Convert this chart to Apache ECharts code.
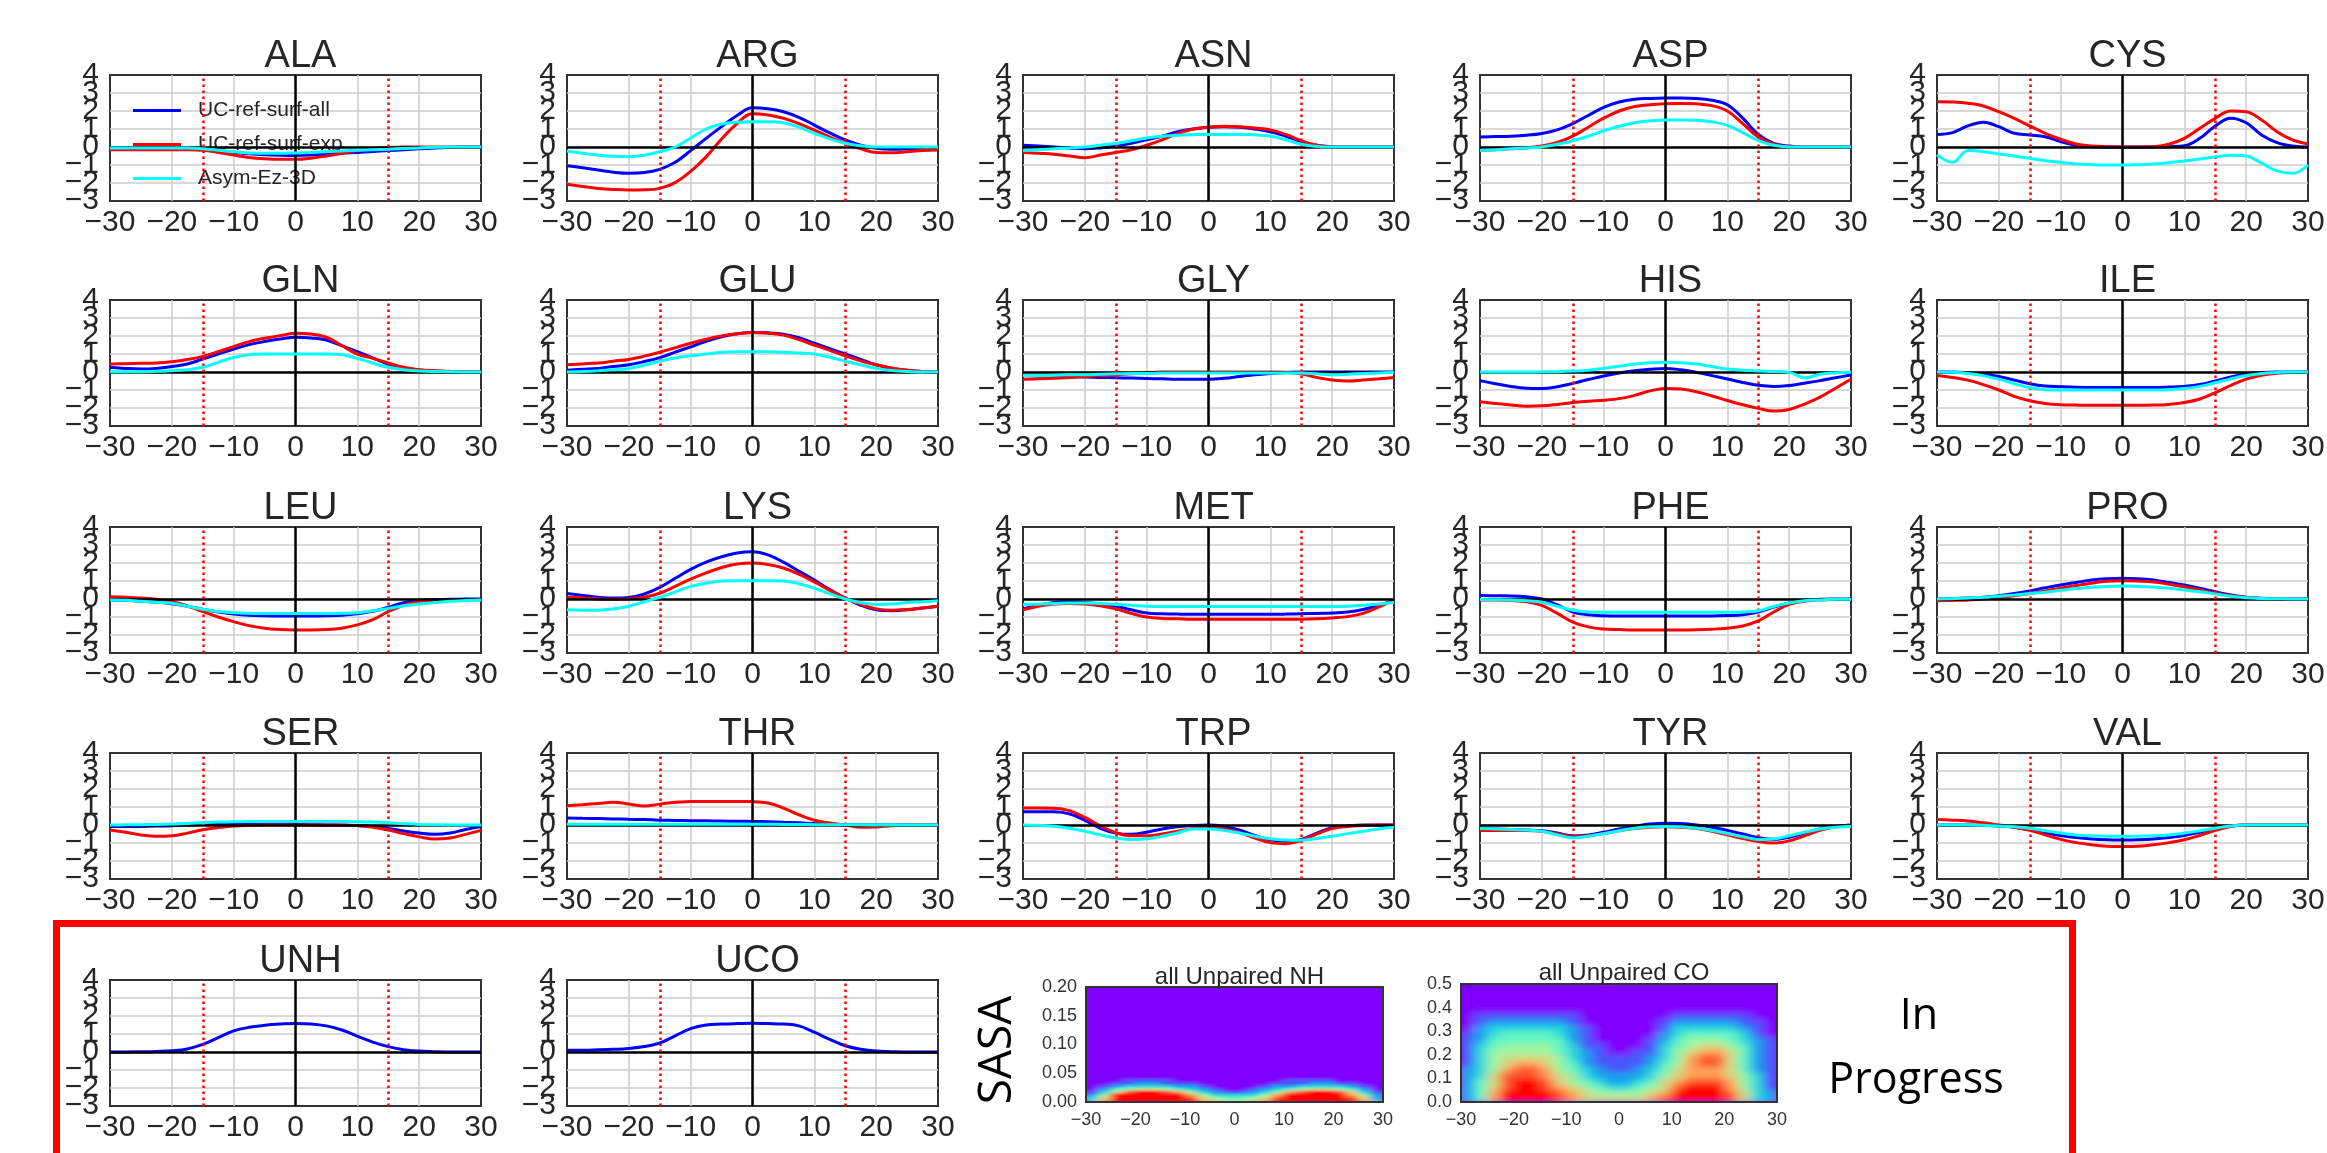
<!DOCTYPE html>
<html><head><meta charset="utf-8">
<script src="https://cdn.jsdelivr.net/npm/echarts@6/dist/echarts.min.js"></script>
<style>
html,body{margin:0;padding:0;background:#fff}
#wrap{position:relative;width:2327px;height:1153px;background:#fff;overflow:hidden}
.hm{position:absolute;overflow:hidden;background:#8000ff}
.hmi{position:absolute}
#c{position:absolute;left:0;top:0;width:2327px;height:1153px}
</style>
</head><body>
<svg width="0" height="0" style="position:absolute">
  <filter id="blurNH" x="-5%" y="-20%" width="110%" height="140%"><feGaussianBlur stdDeviation="4 0.9" edgeMode="duplicate"/></filter>
  <filter id="blurCO" x="-5%" y="-10%" width="110%" height="120%"><feGaussianBlur stdDeviation="5.5 3.3" edgeMode="duplicate"/></filter>
</svg>
<div id="wrap">
  <div class="hm" style="left:1086px;top:987px;width:297px;height:115px"><div id="hm0" class="hmi" style="left:-10px;top:-10px;width:317px;height:135px;filter:url(#blurNH)"></div></div>
  <div class="hm" style="left:1461px;top:984px;width:316px;height:118px"><div id="hm1" class="hmi" style="left:-10px;top:-10px;width:336px;height:138px;filter:url(#blurCO)"></div></div>
  <div id="c"></div>
</div>
<script>
// ---- data ----
const X = [-30,-27.5,-25,-22.5,-20,-17.5,-15,-12.5,-10,-7.5,-5,-2.5,0,2.5,5,7.5,10,12.5,15,17.5,20,22.5,25,27.5,30];
const SERIES_NAMES = ['UC-ref-surf-all','UC-ref-surf-exp','Asym-Ez-3D'];
const TITLES = ['ALA','ARG','ASN','ASP','CYS','GLN','GLU','GLY','HIS','ILE','LEU','LYS','MET','PHE','PRO','SER','THR','TRP','TYR','VAL','UNH','UCO'];
// y tick labels, split into three groups so that neighbouring labels do not collide inside one axis
const Y_LABEL_GROUPS = [[-3,0,3],[-2,1,4],[-1,2]];

const ALA_all  = [-0.05,-0.05,-0.05,-0.05,-0.05,-0.08,-0.12,-0.2,-0.3,-0.38,-0.43,-0.46,-0.47,-0.45,-0.4,-0.35,-0.3,-0.25,-0.2,-0.15,-0.1,-0.05,-0.02,0,0];
const ALA_exp  = [-0.15,-0.15,-0.15,-0.15,-0.15,-0.15,-0.18,-0.3,-0.45,-0.58,-0.65,-0.68,-0.68,-0.62,-0.5,-0.35,-0.2,-0.1,-0.03,0,0,0,0,0,0];
const ALA_asym = [-0.05,-0.05,-0.05,-0.05,-0.05,-0.05,-0.1,-0.18,-0.27,-0.33,-0.35,-0.35,-0.33,-0.3,-0.26,-0.22,-0.18,-0.15,-0.12,-0.08,-0.05,-0.02,0,0,0];

const ARG_all  = [-1.04,-1.15,-1.28,-1.4,-1.46,-1.42,-1.24,-0.85,-0.2,0.48,1.13,1.75,2.18,2.12,1.96,1.65,1.22,0.78,0.39,0.1,-0.07,-0.12,-0.1,-0.07,-0.05];
const ARG_exp  = [-2.07,-2.2,-2.3,-2.36,-2.39,-2.38,-2.3,-1.98,-1.35,-0.55,0.45,1.3,1.85,1.78,1.6,1.3,0.94,0.55,0.2,-0.1,-0.3,-0.32,-0.26,-0.2,-0.17];
const ARG_asym = [-0.22,-0.35,-0.45,-0.52,-0.54,-0.46,-0.26,0.0,0.5,1.0,1.28,1.38,1.4,1.4,1.35,1.1,0.76,0.45,0.2,0.07,0.0,0,0,0,0];

const ASN_all  = [0.1,0.05,0,-0.05,-0.1,-0.05,0.05,0.2,0.4,0.6,0.85,1.0,1.1,1.12,1.1,1.0,0.85,0.6,0.3,0.1,0.02,0,0,0,0];
const ASN_exp  = [-0.3,-0.35,-0.4,-0.5,-0.6,-0.45,-0.3,-0.15,0.1,0.4,0.75,1.0,1.1,1.15,1.12,1.05,0.95,0.7,0.35,0.1,0,0,0,0,0];
const ASN_asym = [-0.2,-0.15,-0.1,-0.05,0,0.1,0.2,0.35,0.5,0.6,0.65,0.68,0.7,0.7,0.7,0.68,0.6,0.4,0.15,0.03,0,0,0,0,0];

const ASP_all  = [0.55,0.58,0.6,0.65,0.75,0.95,1.3,1.75,2.2,2.5,2.65,2.7,2.72,2.72,2.7,2.6,2.35,1.6,0.7,0.2,0.05,0,0,0,0];
const ASP_exp  = [-0.2,-0.15,-0.1,-0.05,0.05,0.25,0.6,1.1,1.6,2.0,2.25,2.35,2.4,2.42,2.4,2.3,2.0,1.3,0.55,0.15,0.02,0,0,0,0];
const ASP_asym = [-0.2,-0.15,-0.1,-0.05,0,0.15,0.35,0.6,0.9,1.15,1.35,1.45,1.5,1.5,1.48,1.4,1.2,0.8,0.35,0.1,0,0,0,0,0];

const CYS_all  = [0.7,0.8,1.17,1.37,1.13,0.76,0.67,0.57,0.3,0.1,0.02,0,0,0,0,0.02,0.07,0.48,1.17,1.6,1.35,0.67,0.24,0.05,0];
const CYS_exp  = [2.52,2.5,2.43,2.28,1.96,1.59,1.17,0.76,0.43,0.17,0.06,0.02,0,0,0.02,0.15,0.48,1.04,1.59,2.0,1.96,1.5,0.85,0.39,0.17];
const CYS_asym = [-0.44,-0.85,-0.2,-0.26,-0.39,-0.5,-0.63,-0.76,-0.85,-0.94,-0.98,-1.0,-1.0,-0.98,-0.94,-0.87,-0.78,-0.67,-0.54,-0.46,-0.5,-0.9,-1.33,-1.46,-1.0];

const GLN_all  = [0.26,0.2,0.17,0.2,0.3,0.44,0.72,1.0,1.28,1.52,1.69,1.83,1.93,1.89,1.78,1.46,1.13,0.78,0.44,0.22,0.11,0.05,0.02,0,0];
const GLN_exp  = [0.44,0.46,0.48,0.5,0.57,0.69,0.87,1.13,1.41,1.69,1.87,2.02,2.15,2.11,1.93,1.46,1.0,0.76,0.5,0.26,0.13,0.07,0.04,0.02,0];
const GLN_asym = [0.02,0.02,0.02,0.04,0.07,0.13,0.26,0.54,0.81,0.96,1.0,1.0,1.0,1.0,1.0,0.96,0.76,0.5,0.26,0.13,0.06,0.03,0.02,0,0];

const GLU_all  = [0.1,0.15,0.2,0.3,0.4,0.58,0.8,1.1,1.4,1.7,1.95,2.12,2.2,2.18,2.1,1.9,1.6,1.3,1.0,0.7,0.4,0.2,0.1,0.03,0];
const GLU_exp  = [0.4,0.45,0.5,0.6,0.7,0.88,1.1,1.35,1.6,1.82,2.0,2.12,2.2,2.15,2.05,1.8,1.5,1.2,0.9,0.62,0.4,0.22,0.1,0.03,0];
const GLU_asym = [0,0.03,0.07,0.12,0.2,0.38,0.6,0.78,0.9,1.0,1.1,1.12,1.12,1.12,1.1,1.05,1.0,0.82,0.6,0.4,0.2,0.08,0.03,0,0];

const GLY_all  = [-0.2,-0.22,-0.24,-0.26,-0.28,-0.3,-0.32,-0.34,-0.36,-0.38,-0.4,-0.4,-0.4,-0.35,-0.25,-0.15,-0.08,-0.03,0,0,0,0,0,0,0];
const GLY_exp  = [-0.4,-0.38,-0.35,-0.3,-0.25,-0.2,-0.15,-0.1,-0.05,0,0,0,0,0,0,0,0,-0.02,-0.1,-0.3,-0.45,-0.5,-0.45,-0.38,-0.3];
const GLY_asym = [-0.2,-0.2,-0.18,-0.15,-0.15,-0.12,-0.1,-0.08,-0.08,-0.06,-0.05,-0.05,-0.05,-0.05,-0.05,-0.05,-0.05,-0.05,-0.05,-0.1,-0.15,-0.12,-0.08,-0.05,-0.03];

const HIS_all  = [-0.48,-0.65,-0.8,-0.9,-0.92,-0.82,-0.63,-0.42,-0.22,-0.05,0.07,0.15,0.2,0.12,-0.02,-0.2,-0.39,-0.58,-0.74,-0.8,-0.75,-0.62,-0.48,-0.32,-0.17];
const HIS_exp  = [-1.65,-1.75,-1.83,-1.9,-1.88,-1.8,-1.7,-1.62,-1.57,-1.48,-1.3,-1.05,-0.91,-0.95,-1.1,-1.33,-1.58,-1.82,-2.02,-2.17,-2.08,-1.78,-1.4,-0.9,-0.4];
const HIS_asym = [0,0,0,0,0.01,0.02,0.05,0.1,0.2,0.32,0.44,0.52,0.54,0.52,0.44,0.3,0.17,0.1,0.06,0.03,-0.02,-0.32,-0.12,-0.05,-0.02];

const ILE_all  = [0,0,-0.05,-0.12,-0.25,-0.45,-0.65,-0.78,-0.82,-0.85,-0.86,-0.86,-0.86,-0.86,-0.86,-0.84,-0.8,-0.7,-0.5,-0.28,-0.1,-0.03,0,0,0];
const ILE_exp  = [-0.2,-0.3,-0.45,-0.7,-1.0,-1.35,-1.6,-1.75,-1.82,-1.84,-1.85,-1.85,-1.85,-1.85,-1.84,-1.8,-1.7,-1.5,-1.15,-0.75,-0.4,-0.18,-0.07,-0.02,0];
const ILE_asym = [0,-0.02,-0.08,-0.2,-0.4,-0.65,-0.88,-0.98,-1.0,-1.0,-1.0,-1.0,-1.0,-1.0,-1.0,-0.98,-0.92,-0.8,-0.6,-0.38,-0.2,-0.08,-0.03,0,0];

const LEU_all  = [-0.05,-0.07,-0.12,-0.18,-0.26,-0.4,-0.57,-0.72,-0.83,-0.9,-0.93,-0.94,-0.94,-0.94,-0.93,-0.9,-0.82,-0.68,-0.46,-0.2,-0.07,-0.03,-0.02,0,0];
const LEU_exp  = [0.13,0.1,0.05,-0.02,-0.15,-0.38,-0.7,-1.0,-1.26,-1.48,-1.63,-1.7,-1.72,-1.72,-1.7,-1.62,-1.44,-1.15,-0.7,-0.35,-0.15,-0.08,-0.05,-0.05,-0.05];
const LEU_asym = [-0.05,-0.07,-0.12,-0.18,-0.24,-0.4,-0.57,-0.7,-0.76,-0.79,-0.8,-0.8,-0.8,-0.8,-0.8,-0.79,-0.76,-0.66,-0.52,-0.38,-0.28,-0.2,-0.13,-0.08,-0.05];

const LYS_all  = [0.3,0.2,0.1,0.05,0.08,0.28,0.65,1.15,1.65,2.05,2.35,2.55,2.62,2.45,2.05,1.55,1.05,0.52,0.05,-0.35,-0.6,-0.65,-0.6,-0.5,-0.4];
const LYS_exp  = [0.1,0.05,0,-0.02,0,0.1,0.32,0.7,1.1,1.45,1.75,1.95,2.0,1.92,1.72,1.38,0.95,0.48,0.05,-0.3,-0.55,-0.62,-0.58,-0.5,-0.4];
const LYS_asym = [-0.6,-0.62,-0.62,-0.55,-0.4,-0.15,0.1,0.4,0.7,0.88,1.0,1.02,1.02,1.02,1.0,0.85,0.6,0.3,0,-0.2,-0.3,-0.28,-0.2,-0.15,-0.1];

const MET_all  = [-0.55,-0.35,-0.2,-0.15,-0.2,-0.28,-0.4,-0.6,-0.78,-0.82,-0.84,-0.85,-0.85,-0.85,-0.85,-0.85,-0.85,-0.84,-0.82,-0.8,-0.78,-0.72,-0.58,-0.35,-0.1];
const MET_exp  = [-0.6,-0.4,-0.28,-0.25,-0.28,-0.38,-0.55,-0.8,-1.0,-1.08,-1.1,-1.12,-1.12,-1.12,-1.12,-1.12,-1.12,-1.12,-1.12,-1.1,-1.05,-0.98,-0.8,-0.45,-0.05];
const MET_asym = [-0.3,-0.28,-0.25,-0.22,-0.22,-0.25,-0.3,-0.35,-0.4,-0.42,-0.42,-0.42,-0.42,-0.42,-0.42,-0.42,-0.42,-0.42,-0.42,-0.42,-0.42,-0.4,-0.35,-0.28,-0.2];

const PHE_all  = [0.19,0.18,0.17,0.12,0.0,-0.33,-0.72,-0.88,-0.93,-0.94,-0.94,-0.94,-0.94,-0.94,-0.94,-0.94,-0.92,-0.87,-0.72,-0.45,-0.22,-0.08,-0.02,0,0];
const PHE_exp  = [-0.05,-0.05,-0.08,-0.15,-0.35,-0.8,-1.28,-1.55,-1.67,-1.7,-1.72,-1.72,-1.72,-1.72,-1.71,-1.68,-1.62,-1.5,-1.22,-0.72,-0.3,-0.12,-0.05,-0.03,-0.02];
const PHE_asym = [-0.03,-0.04,-0.06,-0.1,-0.18,-0.4,-0.62,-0.72,-0.74,-0.74,-0.74,-0.74,-0.74,-0.74,-0.74,-0.74,-0.74,-0.72,-0.65,-0.42,-0.22,-0.1,-0.05,-0.02,-0.01];

const PRO_all  = [0,0.02,0.05,0.1,0.18,0.3,0.45,0.62,0.78,0.92,1.05,1.12,1.15,1.12,1.05,0.92,0.78,0.6,0.4,0.22,0.1,0.04,0.01,0,0];
const PRO_exp  = [-0.1,-0.08,-0.05,0,0.08,0.18,0.3,0.45,0.6,0.75,0.88,0.98,1.02,1.0,0.95,0.82,0.68,0.5,0.32,0.18,0.08,0.03,0,0,0];
const PRO_asym = [0,0.02,0.05,0.1,0.15,0.22,0.3,0.38,0.48,0.58,0.65,0.7,0.72,0.7,0.66,0.6,0.5,0.4,0.28,0.15,0.07,0.03,0.01,0,0];

const SER_all  = [-0.09,-0.09,-0.08,-0.06,-0.04,0,0.03,0.07,0.09,0.09,0.07,0.05,0.03,0.02,0,-0.01,-0.03,-0.08,-0.19,-0.33,-0.45,-0.52,-0.45,-0.25,-0.09];
const SER_exp  = [-0.28,-0.4,-0.55,-0.63,-0.6,-0.45,-0.26,-0.14,-0.06,-0.02,0,0,0,0,0,0,-0.03,-0.12,-0.28,-0.48,-0.66,-0.78,-0.72,-0.52,-0.3];
const SER_asym = [0,0.01,0.02,0.03,0.05,0.09,0.13,0.16,0.18,0.19,0.19,0.19,0.19,0.19,0.19,0.19,0.18,0.16,0.12,0.07,0.03,0.01,0,0,0];

const THR_all  = [0.39,0.37,0.36,0.34,0.32,0.3,0.27,0.25,0.24,0.23,0.22,0.21,0.2,0.18,0.15,0.12,0.08,0.05,0.02,0.01,0,0,0,0,0];
const THR_exp  = [1.07,1.13,1.2,1.26,1.17,1.05,1.16,1.27,1.3,1.31,1.31,1.31,1.3,1.22,0.94,0.57,0.26,0.11,0,-0.13,-0.11,-0.04,0,0,0];
const THR_asym = [0.04,0.04,0.04,0.04,0.04,0.04,0.04,0.04,0.04,0.04,0.04,0.04,0.04,0.04,0.03,0.03,0.02,0.02,0.01,0.01,0,0,0,0,0];

const TRP_all  = [0.74,0.74,0.73,0.62,0.26,-0.18,-0.45,-0.52,-0.4,-0.22,-0.1,-0.03,0,-0.08,-0.28,-0.58,-0.82,-0.9,-0.8,-0.45,-0.15,-0.05,0,0,0];
const TRP_exp  = [0.94,0.94,0.93,0.8,0.42,-0.05,-0.42,-0.6,-0.6,-0.5,-0.35,-0.2,-0.13,-0.22,-0.42,-0.72,-0.98,-1.04,-0.85,-0.5,-0.2,-0.08,-0.03,0,0];
const TRP_asym = [0,-0.02,-0.07,-0.18,-0.35,-0.55,-0.72,-0.8,-0.77,-0.62,-0.44,-0.22,-0.22,-0.3,-0.44,-0.62,-0.76,-0.84,-0.85,-0.75,-0.62,-0.48,-0.35,-0.22,-0.13];

const TYR_all  = [-0.2,-0.22,-0.25,-0.28,-0.32,-0.45,-0.6,-0.55,-0.4,-0.22,-0.08,0.05,0.1,0.08,0,-0.12,-0.3,-0.5,-0.7,-0.8,-0.68,-0.45,-0.22,-0.08,0];
const TYR_exp  = [-0.3,-0.3,-0.3,-0.3,-0.35,-0.5,-0.65,-0.6,-0.48,-0.32,-0.2,-0.12,-0.1,-0.12,-0.2,-0.35,-0.55,-0.75,-0.92,-1.0,-0.88,-0.6,-0.3,-0.1,0];
const TYR_asym = [-0.2,-0.22,-0.25,-0.28,-0.35,-0.55,-0.72,-0.62,-0.48,-0.32,-0.18,-0.1,-0.08,-0.1,-0.18,-0.3,-0.48,-0.65,-0.8,-0.78,-0.6,-0.4,-0.22,-0.12,-0.08];

const VAL_all  = [0,0,0,-0.02,-0.05,-0.12,-0.25,-0.42,-0.58,-0.7,-0.78,-0.82,-0.83,-0.82,-0.78,-0.7,-0.58,-0.4,-0.2,-0.05,0,0,0,0,0];
const VAL_exp  = [0.3,0.27,0.22,0.12,0,-0.12,-0.3,-0.55,-0.8,-0.98,-1.1,-1.18,-1.2,-1.18,-1.1,-0.98,-0.82,-0.58,-0.3,-0.08,0,0,0,0,0];
const VAL_asym = [0,0,0,-0.02,-0.05,-0.1,-0.18,-0.32,-0.45,-0.55,-0.6,-0.62,-0.63,-0.62,-0.6,-0.55,-0.45,-0.32,-0.18,-0.05,0,0,0,0,0];

const UNH_all  = [0,0,0.01,0.03,0.07,0.17,0.42,0.8,1.17,1.37,1.48,1.55,1.59,1.56,1.45,1.22,0.88,0.55,0.3,0.13,0.05,0.02,0,0,0];
const UCO_all  = [0.1,0.1,0.12,0.15,0.2,0.3,0.5,0.9,1.3,1.5,1.55,1.58,1.6,1.58,1.55,1.45,1.1,0.7,0.35,0.15,0.05,0.02,0,0,0];

// heatmap "all Unpaired NH": x bins of 2.5 from -30..30, y bins of 0.005 (rows bottom-up), levels 0..9
const NH_ROWS = [
  [3,7,9,9,9,9,9,9,9,7,6,5,5,6,7,9,9,9,9,9,9,9,7,3],
  [3,6,9,9,9,9,9,9,8,6,5,4,4,5,6,8,9,9,9,9,9,8,6,2],
  [2,5,9,9,9,9,9,9,7,5,3,3,3,3,5,7,9,9,9,9,9,7,5,2],
  [1,3,6,8,9,9,8,7,5,3,2,1,1,2,3,5,7,8,9,9,8,6,3,1],
  [0,2,4,5,6,6,5,4,3,2,1,0,0,1,2,3,4,5,6,6,5,4,2,0],
  [0,1,2,3,3,3,3,2,2,1,0,0,0,0,1,2,2,3,3,3,3,2,1,0],
  [0,0,1,1,2,2,1,1,1,0,0,0,0,0,0,1,1,1,2,2,1,1,0,0],
  [0,0,0,1,1,1,1,0,0,0,0,0,0,0,0,0,1,1,1,1,0,0,0,0]
];
// heatmap "all Unpaired CO": x bins of 2.5, y bins of 0.025
const CO_ROWS = [
  [2,4,7,9,9,9,9,8,7,6,6,6,6,6,7,8,9,9,9,9,8,6,3,2],
  [2,4,7,9,9,9,9,8,7,6,5,5,5,5,6,7,9,9,9,9,8,6,3,2],
  [2,4,6,8,9,9,8,7,6,5,4,3,3,4,5,6,8,9,9,9,7,5,3,1],
  [2,4,6,8,9,9,8,6,5,4,3,2,2,3,4,6,7,8,8,8,7,5,3,1],
  [2,3,6,8,8,8,7,6,5,3,2,2,2,2,3,5,6,7,7,7,6,5,3,1],
  [2,3,5,7,8,8,7,5,4,3,2,1,1,2,3,4,6,7,7,7,6,4,2,1],
  [1,3,5,6,7,7,6,5,4,2,1,1,1,1,2,4,5,7,8,8,6,4,2,1],
  [1,3,5,6,6,6,6,5,3,2,1,1,1,1,2,3,5,7,8,8,6,4,2,1],
  [1,3,5,5,5,5,5,4,3,2,1,0,0,1,1,3,5,6,7,7,6,4,2,1],
  [1,3,4,5,5,5,5,4,3,1,1,0,0,0,1,3,4,5,6,6,5,4,2,1],
  [1,2,4,4,4,4,4,4,2,1,0,0,0,0,1,2,4,5,5,5,4,3,2,1],
  [1,2,3,4,4,4,4,3,2,1,0,0,0,0,0,2,3,4,4,4,4,3,1,0],
  [0,2,3,3,3,3,3,3,2,1,0,0,0,0,0,1,3,3,3,3,3,2,1,0],
  [0,1,2,2,2,2,2,2,1,0,0,0,0,0,0,1,2,2,2,2,2,1,1,0],
  [0,1,1,1,1,1,1,1,1,0,0,0,0,0,0,0,1,1,1,1,1,1,0,0]
];
const NH_NROWS = 40, CO_NROWS = 20, HM_NCOLS = 24;

// ---- layout / style ----
const PANEL_DATA = {
  ALA:[ALA_all,ALA_exp,ALA_asym], ARG:[ARG_all,ARG_exp,ARG_asym], ASN:[ASN_all,ASN_exp,ASN_asym],
  ASP:[ASP_all,ASP_exp,ASP_asym], CYS:[CYS_all,CYS_exp,CYS_asym], GLN:[GLN_all,GLN_exp,GLN_asym],
  GLU:[GLU_all,GLU_exp,GLU_asym], GLY:[GLY_all,GLY_exp,GLY_asym], HIS:[HIS_all,HIS_exp,HIS_asym],
  ILE:[ILE_all,ILE_exp,ILE_asym], LEU:[LEU_all,LEU_exp,LEU_asym], LYS:[LYS_all,LYS_exp,LYS_asym],
  MET:[MET_all,MET_exp,MET_asym], PHE:[PHE_all,PHE_exp,PHE_asym], PRO:[PRO_all,PRO_exp,PRO_asym],
  SER:[SER_all,SER_exp,SER_asym], THR:[THR_all,THR_exp,THR_asym], TRP:[TRP_all,TRP_exp,TRP_asym],
  TYR:[TYR_all,TYR_exp,TYR_asym], VAL:[VAL_all,VAL_exp,VAL_asym], UNH:[UNH_all], UCO:[UCO_all]
};
const COLORS = ['#0000ff','#ff0000','#00ffff'];
const COL_L = [110,567,1023,1480,1937], ROW_T = [75,300,527,753,980], PW = 371, PH = 126;
const FONT = '"Liberation Sans", Arial, sans-serif';
const TXT = '#262626';
const fmtMinus = v => (v < 0 ? '\u2212' + (-v) : String(v));
const RAINBOW = ['#8000ff','#4062fa','#00b5eb','#40ecd4','#80ffb4','#c0ec8e','#ffb462','#ff6232','#ff0000'];

const grids = [], xAxes = [], yAxes = [], series = [], titles = [];

TITLES.forEach((name, i) => {
  const r = Math.floor(i / 5), c = i % 5;
  const left = COL_L[c], top = ROW_T[r];
  const gi = grids.length;
  grids.push({left, top, width: PW, height: PH, show: true, borderColor: '#333', borderWidth: 2,
    backgroundColor: '#fff', containLabel: false, outerBoundsMode: 'none'});
  const xi = xAxes.length;
  xAxes.push({type: 'value', gridIndex: gi, min: -30, max: 30, interval: 10,
    axisLine: {show: false}, axisTick: {show: false},
    splitLine: {show: true, showMinLine: false, showMaxLine: false, lineStyle: {color: '#cccccc', width: 1.5}},
    axisLabel: {fontSize: 30, color: TXT, fontFamily: FONT, margin: 7, formatter: fmtMinus,
      showMinLabel: true, showMaxLabel: true, hideOverlap: false}});
  const yi = yAxes.length;
  Y_LABEL_GROUPS.forEach((vals, g) => {
    yAxes.push({type: 'value', gridIndex: gi, position: 'left', offset: 0, min: -3, max: 4, interval: 1,
      axisLine: {show: false}, axisTick: {show: false},
      splitLine: {show: g === 0, showMinLine: false, showMaxLine: false, lineStyle: {color: '#cccccc', width: 1.5}},
      axisLabel: {fontSize: 30, color: TXT, fontFamily: FONT, margin: 11, formatter: fmtMinus,
        customValues: vals, showMinLabel: true, showMaxLabel: true, hideOverlap: false}});
  });
  titles.push({text: name, left: left + PW / 2, top: top - 42, textAlign: 'center',
    textStyle: {fontSize: 38, fontWeight: 'normal', color: TXT, fontFamily: FONT}});
  const arrs = PANEL_DATA[name];
  arrs.forEach((arr, k) => {
    const s = {type: 'line', xAxisIndex: xi, yAxisIndex: yi, smooth: 0.4, symbol: 'none',
      lineStyle: {color: COLORS[k], width: 3}, itemStyle: {color: COLORS[k]},
      data: X.map((x, j) => [x, arr[j]]), animation: false, silent: true, z: 3 + k};
    if (i === 0) s.name = SERIES_NAMES[k];
    if (k === arrs.length - 1) {
      s.markLine = {silent: true, symbol: ['none', 'none'], label: {show: false}, animation: false,
        emphasis: {disabled: true},
        data: [
          {yAxis: 0, lineStyle: {color: '#000', width: 2.5, type: 'solid'}},
          {xAxis: 0, lineStyle: {color: '#000', width: 2.5, type: 'solid'}},
          {xAxis: -15, lineStyle: {color: '#ff0000', width: 2.5, type: [2.5, 3.5]}},
          {xAxis: 15, lineStyle: {color: '#ff0000', width: 2.5, type: [2.5, 3.5]}}
        ]};
    }
    series.push(s);
  });
});

// heatmap frames + ticks (cells drawn in separate instances below, behind this chart)
const HM = [
  {title: 'all Unpaired NH', rows: NH_ROWS, nrows: NH_NROWS, left: 1086, top: 987, width: 297, height: 115,
   ymax: 0.2, yint: 0.05, dec: 2, titleX: 1234.5, titleY: 960, el: 'hm0'},
  {title: 'all Unpaired CO', rows: CO_ROWS, nrows: CO_NROWS, left: 1461, top: 984, width: 316, height: 118,
   ymax: 0.5, yint: 0.1, dec: 1, titleX: 1619, titleY: 956, el: 'hm1'}
];
HM.forEach(h => {
  const oi = grids.length;
  grids.push({left: h.left, top: h.top, width: h.width, height: h.height, show: true, z: 5,
    backgroundColor: 'transparent', borderColor: '#333', borderWidth: 2, containLabel: false, outerBoundsMode: 'none'});
  xAxes.push({type: 'value', gridIndex: oi, min: -30, max: 30, interval: 10,
    axisLine: {show: false}, axisTick: {show: false}, splitLine: {show: false},
    axisLabel: {fontSize: 18, color: '#333', fontFamily: FONT, margin: 9, formatter: fmtMinus,
      showMinLabel: true, showMaxLabel: true, hideOverlap: false}});
  yAxes.push({type: 'value', gridIndex: oi, min: 0, max: h.ymax, interval: h.yint,
    axisLine: {show: false}, axisTick: {show: false}, splitLine: {show: false},
    axisLabel: {fontSize: 18, color: '#333', fontFamily: FONT, margin: 9,
      formatter: v => v.toFixed(h.dec), showMinLabel: true, showMaxLabel: true, hideOverlap: false}});
  titles.push({text: h.title, left: h.titleX, top: h.titleY, textAlign: 'center',
    textStyle: {fontSize: 24, fontWeight: 'normal', color: TXT, fontFamily: FONT}});
});

const option = {
  backgroundColor: 'transparent',
  animation: false,
  title: titles,
  grid: grids,
  xAxis: xAxes,
  yAxis: yAxes,
  series: series,
  legend: {orient: 'vertical', left: 128, top: 95, itemWidth: 48, itemHeight: 3, itemGap: 13, icon: 'rect',
    selectedMode: false, data: SERIES_NAMES,
    textStyle: {fontSize: 21, color: TXT, fontFamily: FONT, padding: [0, 0, 0, 12]}},
  graphic: [
    {type: 'rect', shape: {x: 56.5, y: 923.5, width: 2016, height: 300},
     style: {fill: 'none', stroke: '#ff0000', lineWidth: 7}, z: 10, silent: true},
    {type: 'text', x: 998, y: 1050, rotation: Math.PI / 2, silent: true,
     style: {text: 'SASA', fill: '#000', font: '46px "Open Sans", sans-serif', textAlign: 'center', textVerticalAlign: 'middle'}},
    {type: 'text', x: 1919, y: 1017, silent: true,
     style: {text: 'In', fill: '#000', font: '43px "Open Sans", sans-serif', textAlign: 'center', textVerticalAlign: 'middle'}},
    {type: 'text', x: 1916, y: 1081, silent: true,
     style: {text: 'Progress', fill: '#000', font: '43px "Open Sans", sans-serif', textAlign: 'center', textVerticalAlign: 'middle'}}
  ]
};

// heatmap cell charts (each fills its plot rect, with a 10px pad that is clipped away)
HM.forEach(h => {
  const data = [];
  h.rows.forEach((row, r) => row.forEach((v, c) => data.push([c, r, v])));
  const hc = echarts.init(document.getElementById(h.el), null, {renderer: 'canvas'});
  hc.setOption({
    animation: false,
    backgroundColor: '#8000ff',
    grid: {left: 10, top: 10, width: h.width, height: h.height, containLabel: false, outerBoundsMode: 'none'},
    xAxis: {type: 'category', data: Array.from({length: HM_NCOLS}, (_, k) => String(k)), show: false},
    yAxis: {type: 'category', data: Array.from({length: h.nrows}, (_, k) => String(k)), show: false},
    visualMap: {type: 'continuous', show: false, min: 0, max: 9, inRange: {color: RAINBOW}},
    series: [{type: 'heatmap', data, silent: true, itemStyle: {borderWidth: 0}, emphasis: {disabled: true}}]
  });
});

const chart = echarts.init(document.getElementById('c'), null, {renderer: 'canvas', width: 2327, height: 1153});
chart.setOption(option);
</script></body></html>
